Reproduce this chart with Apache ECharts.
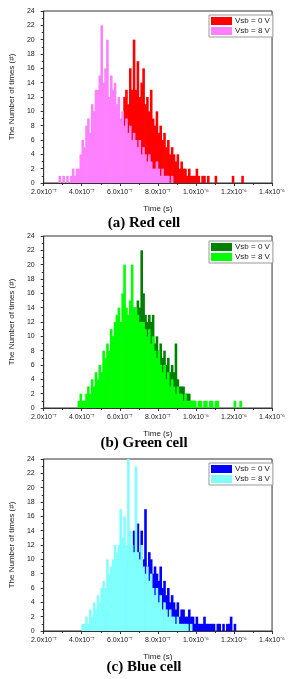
<!DOCTYPE html>
<html>
<head>
<meta charset="utf-8">
<script src="https://cdn.jsdelivr.net/npm/echarts@6/dist/echarts.min.js"></script>
<style>
  html, body { margin: 0; padding: 0; background: #fff; }
  #chart { width: 288px; height: 679px; }
</style>
</head>
<body>
<div id="chart"></div>
<script>
// histogram bins: 0.1 x 1e-7 s wide, first bin starts at 2.8e-7 s (axis in units of 1e-7 s)
const binStart = 2.8;
const binWidth = 0.1;
const tickLabels = ['2.0x10\u207B\u2077', '4.0x10\u207B\u2077', '6.0x10\u207B\u2077', '8.0x10\u207B\u2077',
  '1.0x10\u207B\u2076', '1.2x10\u207B\u2076', '1.4x10\u207B\u2076'];
const legendNames = ['Vsb = 0 V', 'Vsb = 8 V'];
const captions = ['(a) Red cell', '(b) Green cell', '(c) Blue cell'];

// (a) red cell
const red0V = [
  0,0,0,0,0,0,0,0,0,0,
  0,0,0,0,0,0,0,1,0,1,
  1,2,1,2,3,2,3,4,3,4,
  5,6,8,9,12,13,11,16,13,20,
  13,17,12,14,16,11,12,10,13,9,
  8,10,7,8,6,7,5,6,4,5,
  4,3,4,2,3,2,2,1,2,1,
  1,1,2,1,0,1,1,0,1,0,
  0,0,1,0,0,0,0,0,0,0,
  0,1,0,0,0,0,1,0
];
const red8V = [
  1,0,1,0,1,0,1,2,1,2,
  2,4,6,5,8,9,7,11,10,13,
  13,15,22,14,16,20,12,15,13,14,
  11,12,9,10,8,9,7,8,6,7,
  6,5,6,4,5,4,3,4,3,2,
  2,3,2,1,2,1,1,1,0,1,
  0,0,0,0,0,0,0,0,0,0,
  0,0,0,0,0,0,0,0,0,0,
  0,0,0,0,0,0,0,0,0,0,
  0,0,0,0,0,0,0,0
];
// (b) green cell
const green0V = [
  0,0,0,0,0,0,0,0,0,0,
  0,0,0,0,0,0,0,1,0,1,
  2,3,2,4,3,5,4,6,5,7,
  8,9,8,10,11,9,12,13,12,14,
  14,15,14,22,16,13,12,13,12,13,
  9,10,8,9,7,8,6,7,5,6,
  5,9,4,3,3,3,2,2,2,1,
  1,1,0,0,0,0,0,0,0,0,
  0,0,0,0,0,0,0,0,0,0,
  0,0,0,0,0,0,0,0
];
const green8V = [
  0,0,0,0,0,0,0,0,0,0,
  1,2,1,1,2,3,2,4,3,5,
  4,6,5,8,7,9,8,11,10,12,
  13,14,12,16,20,14,13,15,20,14,
  14,13,12,12,12,11,10,11,9,10,
  8,7,8,6,5,6,4,5,3,4,
  3,2,3,2,2,1,2,1,1,1,
  1,1,0,1,1,0,1,1,0,1,
  1,0,1,1,0,0,0,0,0,0,
  0,0,1,0,0,1,0,0
];
// (c) blue cell
const blue0V = [
  0,0,0,0,0,0,0,0,0,0,
  0,0,0,0,0,0,0,0,0,0,
  1,2,1,2,3,2,3,4,3,5,
  5,6,7,8,7,9,10,12,11,14,
  12,15,11,14,10,17,9,11,10,8,
  9,8,7,9,6,7,5,6,4,5,
  4,3,4,2,3,3,2,2,3,2,
  2,1,2,1,1,1,2,1,1,1,
  1,1,0,1,1,0,1,0,1,1,
  2,0,1,0,0,0,0,0
];
const blue8V = [
  0,0,0,0,0,0,0,0,0,0,
  0,0,1,1,2,1,3,2,4,3,
  5,4,6,7,6,10,8,9,10,12,
  11,12,17,13,16,12,24,14,12,11,
  23,11,10,12,9,8,9,7,8,6,
  5,6,4,5,3,4,3,2,3,2,
  2,1,2,1,1,1,1,1,0,1,
  0,0,0,0,0,0,0,0,0,0,
  0,0,0,0,0,0,0,0,0,0,
  0,0,0,0,0,0,0,0
];

const panels = [
  { top: 11, height: 172, legendTop: 15, caption: 225, series: [red0V, red8V], colors: ['#ff0000', '#ff80ff'] },
  { top: 236, height: 172, legendTop: 241, caption: 445, series: [green0V, green8V], colors: ['#008000', '#00ff00'] },
  { top: 459, height: 172, legendTop: 463, caption: 669, series: [blue0V, blue8V], colors: ['#0000ff', '#80ffff'] }
];

function toPoints(counts) {
  return counts.map((c, i) => [binStart + binWidth * i + binWidth / 2, c]);
}

const font = 'Liberation Sans, Arial, sans-serif';
const grid = [], xAxis = [], yAxis = [], series = [], legend = [], graphic = [];

panels.forEach((p, k) => {
  grid.push({ left: 40, right: 14, top: p.top, height: p.height, show: true,
    borderColor: '#333', borderWidth: 1, backgroundColor: 'transparent' });
  xAxis.push({
    gridIndex: k, type: 'value', min: 2, max: 14, interval: 2,
    name: 'Time (s)', nameLocation: 'middle', nameGap: 22,
    nameTextStyle: { fontFamily: font, fontSize: 8, color: '#222' },
    axisLine: { lineStyle: { color: '#333', width: 1 } },
    axisTick: { length: 3, lineStyle: { color: '#333' } },
    minorTick: { show: true, splitNumber: 2, length: 2, lineStyle: { color: '#333' } },
    splitLine: { show: false },
    axisLabel: { fontFamily: font, fontSize: 7, color: '#222', margin: 6,
      formatter: v => tickLabels[Math.round((v - 2) / 2)] }
  });
  yAxis.push({
    gridIndex: k, type: 'value', min: 0, max: 24, interval: 2,
    name: 'The Number of times (#)', nameLocation: 'middle', nameGap: 27,
    nameTextStyle: { fontFamily: font, fontSize: 8, color: '#222' },
    axisLine: { show: true, lineStyle: { color: '#333', width: 1 } },
    axisTick: { show: true, length: 3, lineStyle: { color: '#333' } },
    minorTick: { show: true, splitNumber: 2, length: 2, lineStyle: { color: '#333' } },
    splitLine: { show: false },
    axisLabel: { fontFamily: font, fontSize: 7, color: '#222', margin: 9 }
  });
  const ids = [];
  p.series.forEach((counts, j) => {
    // series names are unique per panel; the legend formatter shows the shared label
    const id = 'p' + k + '_' + j;
    ids.push(id);
    series.push({
      name: id, type: 'bar', xAxisIndex: k, yAxisIndex: k,
      data: toPoints(counts), barWidth: 2.6, barGap: '-100%',
      itemStyle: { color: p.colors[j] }, z: 2 + j
    });
  });
  legend.push({
    data: ids, orient: 'vertical', left: 209, top: p.legendTop,
    itemWidth: 21, itemHeight: 8, itemGap: 2, padding: [2, 3, 2, 2],
    borderColor: '#999', borderWidth: 1, backgroundColor: '#fff',
    icon: 'rect', selectedMode: false,
    formatter: name => legendNames[+name.slice(-1)],
    textStyle: { fontFamily: font, fontSize: 8, color: '#222', padding: [0, 0, 0, -2] }
  });
  graphic.push({
    type: 'text', left: 'center', top: p.caption - 9,
    style: { text: captions[k], font: 'bold 15px "Liberation Serif", "Times New Roman", serif', fill: '#000' }
  });
});

const chart = echarts.init(document.getElementById('chart'), null, { renderer: 'canvas' });
chart.setOption({
  animation: false,
  grid, xAxis, yAxis, series, legend, graphic
});
</script>
</body>
</html>
